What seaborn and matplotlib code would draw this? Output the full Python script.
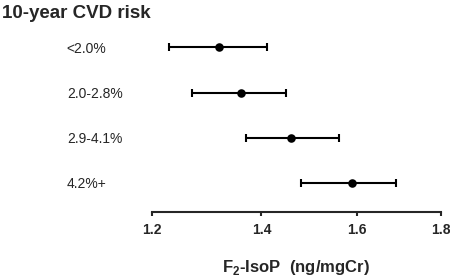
import numpy as np
import pandas as pd
import matplotlib
matplotlib.use("Agg")
import matplotlib.pyplot as plt
import seaborn as sns
from matplotlib.ticker import FixedLocator, NullLocator, FixedFormatter

# values (log x-axis)
risk_groups = ["<2.0%", "2.0-2.8%", "2.9-4.1%", "4.2%+"]
means = [1.32, 1.36, 1.46, 1.59]
ci_low = [1.23, 1.27, 1.37, 1.48]
ci_high = [1.41, 1.45, 1.56, 1.69]
x_ticks = [1.2, 1.4, 1.6, 1.8]

sns.set_style("white")
plt.rcParams['font.family'] = ['Liberation Sans', 'DejaVu Sans']
plt.rcParams['mathtext.fontset'] = 'custom'
plt.rcParams['mathtext.rm'] = 'Liberation Sans'
plt.rcParams['mathtext.bf'] = 'Liberation Sans:bold'

df = pd.DataFrame({"group": risk_groups, "mean": means, "lo": ci_low, "hi": ci_high})

fig = plt.figure(figsize=(4.5, 2.76), dpi=100)
ax = fig.add_axes([0.3367, 0.2319, 0.6427, 0.678])

xerr = np.array([df["mean"] - df["lo"], df["hi"] - df["mean"]])
ax.errorbar(df["mean"], df["group"], xerr=xerr, fmt="none", ecolor="black",
            elinewidth=1.5, capsize=2.8, capthick=1.5, zorder=2)
sns.scatterplot(data=df, x="mean", y="group", color="black", s=38,
                edgecolor="black", linewidth=0, ax=ax, zorder=3)

ax.set_xscale("log")
ax.set_xlim(1.2, 1.8)
ax.set_ylim(3.65, -0.5)
ax.xaxis.set_major_locator(FixedLocator(x_ticks))
ax.xaxis.set_major_formatter(FixedFormatter([f"{t:.1f}" for t in x_ticks]))
ax.xaxis.set_minor_locator(NullLocator())

sns.despine(ax=ax, left=True)
ax.spines["bottom"].set_linewidth(1.5)
ax.tick_params(axis="x", direction="out", length=3, width=1.5, pad=5,
               labelsize=10, bottom=True)
for lab in ax.get_xticklabels():
    lab.set_fontweight("bold")

ax.tick_params(axis="y", length=0, pad=61, labelsize=10)
for lab in ax.get_yticklabels():
    lab.set_horizontalalignment("left")

ax.set_ylabel("")
ax.set_xlabel(r"F$_{\mathbf{2}}$-IsoP  (ng/mgCr)", fontsize=12,
              fontweight="bold", labelpad=15)

fig.text(2 / 450, 1 - 13 / 276, "10-year CVD risk", fontsize=13.5,
         fontweight="bold", va="center", ha="left")

fig.savefig("out.png", dpi=100)
